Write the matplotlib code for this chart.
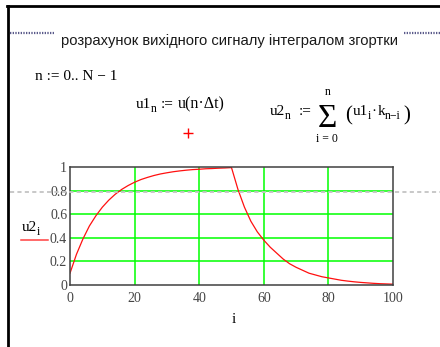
import matplotlib
matplotlib.use("Agg")
import matplotlib.pyplot as plt
from matplotlib.lines import Line2D

# Output of the convolution integral, u2 over sample index i
i_vals = [0, 2, 4, 6, 8, 10, 12, 14, 16, 18, 20, 22, 24, 26, 28, 30, 32, 34, 36, 38,
          40, 42, 44, 46, 48, 50,
          52, 54, 56, 58, 60, 62, 64, 66, 68, 70, 72, 74, 76, 78, 80, 82, 84, 86, 88,
          90, 92, 94, 96, 98, 100]
u2_vals = [0.10, 0.26, 0.39, 0.50, 0.586, 0.659, 0.719, 0.769, 0.810, 0.843, 0.871,
           0.894, 0.912, 0.928, 0.941, 0.951, 0.960, 0.967, 0.973, 0.978,
           0.981, 0.985, 0.987, 0.990, 0.992, 0.995,
           0.81, 0.66, 0.54, 0.45, 0.38, 0.32, 0.27, 0.22, 0.18, 0.15, 0.125, 0.10,
           0.085, 0.07, 0.06, 0.05, 0.04, 0.033, 0.027, 0.022, 0.018, 0.014, 0.011,
           0.009, 0.007]

x_ticks = [0, 20, 40, 60, 80, 100]
x_tick_labels = ["0", "20", "40", "60", "80", "100"]
y_ticks = [0, 0.2, 0.4, 0.6, 0.8, 1]
y_tick_labels = ["0", "0.2", "0.4", "0.6", "0.8", "1"]

title_text = "розрахунок вихідного сигналу інтегралом згортки"

W, H = 440, 347
fig = plt.figure(figsize=(W / 100, H / 100), dpi=100)
renderer = fig.canvas.get_renderer()


def px(x, y):
    return x / W, 1 - y / H


SERIF = "Liberation Serif"
MAIN, SUB = 11, 8.5


def run(x, y, parts, color="black"):
    """Draw a sequence of (text, size, dy) pieces left to right."""
    for s, size, dy in parts:
        t = fig.text(*px(x, y + dy), s, fontsize=size, family=SERIF,
                     va="baseline", ha="left", color=color)
        x += t.get_window_extent(renderer).width
    return x


# page frame
fig.add_artist(Line2D([8 / W, 8 / W], [0, 1 - 5.5 / H], color="black", lw=2,
                      transform=fig.transFigure))
fig.add_artist(Line2D([7 / W, 1], [1 - 6 / H, 1 - 6 / H], color="black", lw=2,
                      transform=fig.transFigure))

# heading with dotted fillers
fig.text(*px(61, 45), title_text, fontsize=10.6, family="Liberation Sans",
         va="baseline", ha="left", color="#1a1a1a")
for xa, xb in [(10, 55), (404, 440)]:
    fig.add_artist(Line2D([xa / W, xb / W], [1 - 32.5 / H] * 2, color="#5a5a8a",
                          lw=1.6, linestyle=(0, (0.6, 0.6)),
                          transform=fig.transFigure))

# definitions
run(35, 80, [("n := 0.. N \u2212 1", MAIN, 0)])
run(136, 108, [("u1", MAIN, 0), ("n", SUB, 4)])
run(161, 108, [(":=", MAIN, 0)])
run(178, 108, [("u(n\u00b7\u0394t)", 11.5, 0)])

run(270, 115, [("u2", MAIN, 0), ("n", SUB, 4)])
run(299, 115, [(":=", MAIN, 0)])
fig.text(*px(327, 127), "\u03a3", fontsize=24, family=SERIF, va="baseline",
         ha="center", color="black")
fig.text(*px(328, 95), "n", fontsize=SUB, family=SERIF, va="baseline", ha="center")
fig.text(*px(327, 142), "i = 0", fontsize=SUB, family=SERIF, va="baseline",
         ha="center")
run(345, 120, [("(", 15, 0)])
x = run(353, 115, [("u1", MAIN, 0), ("i", SUB, 4), ("\u00b7", MAIN, 0)])
x = run(x + 1, 115, [("k", MAIN, 0), ("n\u2212i", SUB, 4)])
run(x + 2, 120, [(")", 15, 0)])

# marker cross
fig.add_artist(Line2D([188 / W], [1 - 133 / H], marker="+", markersize=7,
                      markeredgewidth=1, color="red", transform=fig.transFigure))

# plot region
ax = fig.add_axes([70 / W, 1 - 285 / H, 323 / W, 118 / H])
ax.plot(i_vals, u2_vals, color="#ff1010", lw=0.9, zorder=3)
ax.set_xlim(0, 100)
ax.set_ylim(0, 1)
ax.set_xticks(x_ticks)
ax.set_xticklabels(x_tick_labels)
ax.set_yticks(y_ticks)
ax.set_yticklabels(y_tick_labels)
ax.tick_params(length=0, labelsize=10, labelcolor="#454545")
ax.tick_params(axis="x", pad=5)
ax.tick_params(axis="y", pad=2)
for lab in ax.get_xticklabels() + ax.get_yticklabels():
    lab.set_family(SERIF)
for gx in x_ticks[1:-1]:
    ax.axvline(gx, color="#00ff00", lw=1.1, zorder=1)
for gy in y_ticks[1:-1]:
    ax.axhline(gy, color="#00ff00", lw=1.1, zorder=1)
for sp in ax.spines.values():
    sp.set_color("#404040")
    sp.set_linewidth(1.1)
    sp.set_zorder(4)

# axis names
run(22, 231, [("u2", MAIN, 0), ("i", SUB, 4)])
fig.add_artist(Line2D([21 / W, 48 / W], [1 - 240 / H] * 2, color="#ff4040", lw=1.1,
                      transform=fig.transFigure))
fig.text(*px(233.5, 323), "i", fontsize=MAIN, family=SERIF, va="baseline",
         ha="center")

# page break marker
fig.add_artist(Line2D([10 / W, 1], [1 - 191.5 / H] * 2, color="#c4c4c4", lw=1.3,
                      linestyle=(0, (2.3, 1.8)), transform=fig.transFigure,
                      zorder=10))

fig.savefig("out.png", dpi=100)
